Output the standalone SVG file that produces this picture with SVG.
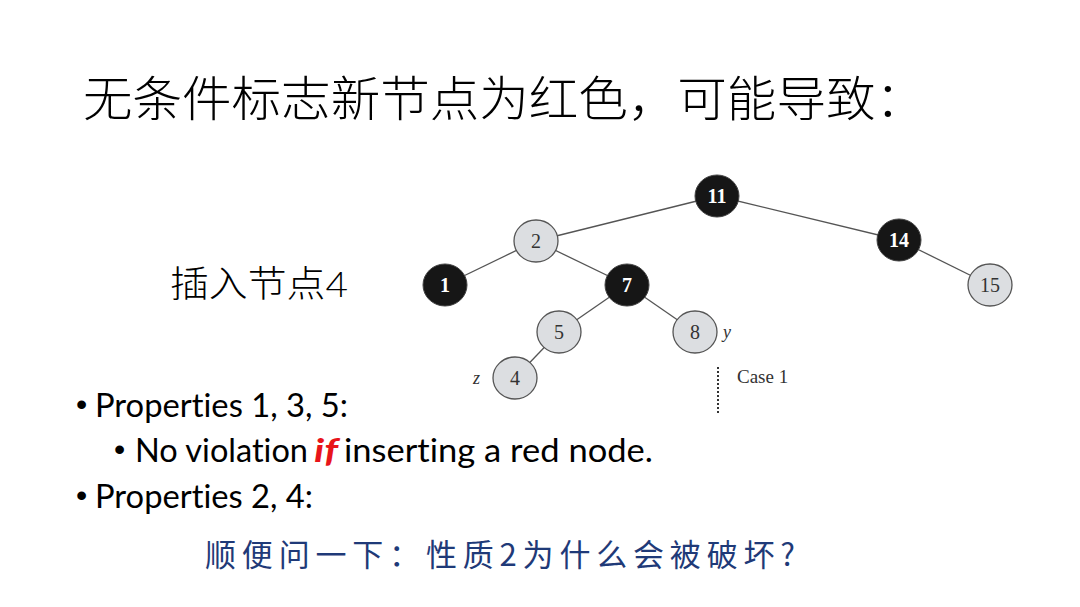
<svg xmlns="http://www.w3.org/2000/svg" width="1080" height="607" viewBox="0 0 1080 607">
<style>
.edge{stroke:#555;stroke-width:1.3;fill:none}
.blk{fill:#161616;stroke:#444;stroke-width:1}
.red{fill:#dcdee1;stroke:#555;stroke-width:1.3}
.lb{font-family:"Liberation Serif",serif;font-size:20px;font-weight:bold;fill:#fff;text-anchor:middle}
.lr{font-family:"Liberation Serif",serif;font-size:20px;fill:#333;text-anchor:middle}
.it{font-family:"Liberation Serif",serif;font-size:18px;font-style:italic;fill:#333}
.bul{font-family:Lato,"Liberation Sans",sans-serif;font-size:32px;fill:#000;font-variant-ligatures:none}
.dot{font-family:"Liberation Sans",sans-serif;font-size:32px;fill:#000}
.cjk{font-family:"Noto Sans CJK SC",sans-serif}
</style>
<rect width="1080" height="607" fill="#fff"/>
<text class="cjk" x="83" y="116" font-size="48" textLength="842" lengthAdjust="spacingAndGlyphs" fill="#000" font-weight="300">无条件标志新节点为红色，可能导致：</text>
<text class="cjk" x="170" y="297" font-size="36" textLength="178" lengthAdjust="spacingAndGlyphs" fill="#000" font-weight="300">插入节点<tspan font-family="Lato,'Liberation Sans',sans-serif">4</tspan></text>
<g id="connectors">
<line class="edge" x1="717" y1="196" x2="536" y2="241"/>
<line class="edge" x1="717" y1="196" x2="899" y2="240"/>
<line class="edge" x1="536" y1="241" x2="445" y2="285"/>
<line class="edge" x1="536" y1="241" x2="627" y2="285"/>
<line class="edge" x1="899" y1="240" x2="990" y2="285"/>
<line class="edge" x1="627" y1="285" x2="559" y2="332"/>
<line class="edge" x1="627" y1="285" x2="695" y2="332"/>
<line class="edge" x1="559" y1="332" x2="515" y2="378"/>
<line x1="718" y1="367" x2="718" y2="414" stroke="#333" stroke-width="2" stroke-dasharray="2,2"/>
</g>
<g id="n11"><ellipse class="blk" cx="717" cy="196" rx="22" ry="21"/><text class="lb" x="717" y="203">11</text></g>
<g id="n2"><ellipse class="red" cx="536" cy="241" rx="22" ry="21"/><text class="lr" x="536" y="248">2</text></g>
<g id="n14"><ellipse class="blk" cx="899" cy="240" rx="22" ry="21"/><text class="lb" x="899" y="247">14</text></g>
<g id="n1"><ellipse class="blk" cx="445" cy="285" rx="22" ry="21"/><text class="lb" x="445" y="292">1</text></g>
<g id="n7"><ellipse class="blk" cx="627" cy="285" rx="22" ry="21"/><text class="lb" x="627" y="292">7</text></g>
<g id="n15"><ellipse class="red" cx="990" cy="285" rx="22" ry="21"/><text class="lr" x="990" y="292">15</text></g>
<g id="n5"><ellipse class="red" cx="559" cy="332" rx="22" ry="21"/><text class="lr" x="559" y="339">5</text></g>
<g id="n8"><ellipse class="red" cx="695" cy="332" rx="22" ry="21"/><text class="lr" x="695" y="339">8</text><text class="it" x="723" y="338">y</text></g>
<g id="n4"><ellipse class="red" cx="515" cy="378" rx="22" ry="21"/><text class="lr" x="515" y="385">4</text><text class="it" x="473" y="384">z</text></g>
<text x="737" y="383" font-family="'Liberation Serif',serif" font-size="19" fill="#333">Case 1</text>
<text class="dot" x="76" y="415">•</text>
<text class="bul" x="95" y="417" textLength="253" lengthAdjust="spacingAndGlyphs">Properties 1, 3, 5:</text>
<text class="dot" x="114" y="460">•</text>
<text class="bul" x="135" y="462" textLength="173" lengthAdjust="spacingAndGlyphs">No violation</text>
<text x="314" y="462" textLength="24" lengthAdjust="spacingAndGlyphs" style="font-family:Lato,'Liberation Sans',sans-serif;font-size:32px;fill:#e8141a;font-weight:bold;font-style:italic">if</text>
<text class="bul" x="344" y="462" textLength="309" lengthAdjust="spacingAndGlyphs">inserting a red node.</text>
<text class="dot" x="76" y="506">•</text>
<text class="bul" x="95" y="508" textLength="218" lengthAdjust="spacingAndGlyphs">Properties 2, 4:</text>
<text class="cjk" x="205" y="566" font-size="31" textLength="590" lengthAdjust="spacing" fill="#1f3a78">顺便问一下：性质2为什么会被破坏?</text>
</svg>
